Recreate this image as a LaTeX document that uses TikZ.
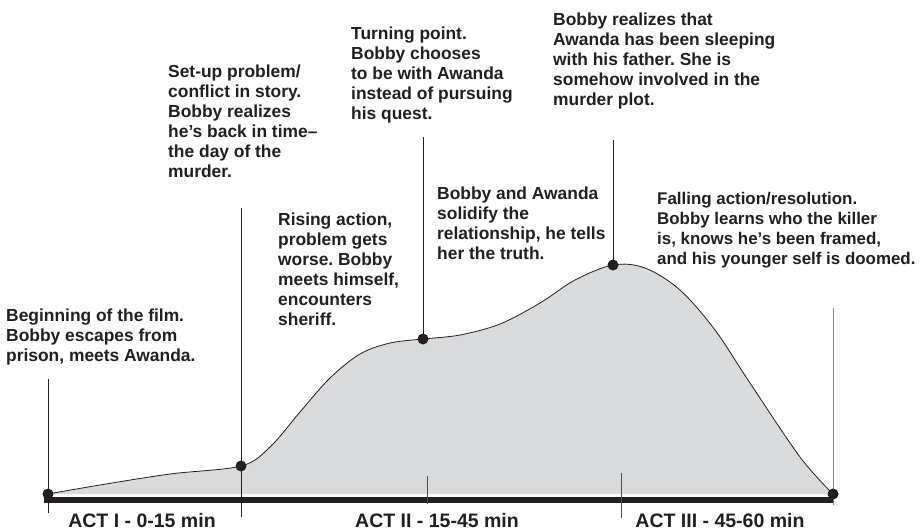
\documentclass[tikz,border=0pt]{standalone}
\usepackage{fontspec}
\setmainfont{Liberation Sans}
\definecolor{ink}{HTML}{231F20}
\definecolor{areafill}{HTML}{D9DADC}
\definecolor{endline}{HTML}{8A8A8A}
\begin{document}
\frenchspacing
\begin{tikzpicture}[x=1pt,y=-1pt,
  note/.style={anchor=north west, inner sep=0pt, align=left,
    font=\fontsize{17.4}{20}\selectfont\bfseries, text=ink},
  actlabel/.style={anchor=base, inner sep=0pt,
    font=\fontsize{19.5}{22}\selectfont\bfseries, text=ink},
  guide/.style={line width=0.9pt, draw=ink},
  tick/.style={line width=0.8pt, draw=ink!80},
  beat/.style={circle, fill=ink, inner sep=0pt, minimum size=11pt},
]
\useasboundingbox (0,0) rectangle (920,530);

% story arc
\def\arc{(48,494) (100,485) (170,474) (241,466) (270,447) (300,412)
  (330,378) (360,354) (390,343) (423,339) (460,335) (500,324) (540,303)
  (575,280) (613,265) (645,268) (680,290) (715,330) (748,380) (800,457)
  (833,494)}
\fill[areafill] plot[smooth, tension=0.55] coordinates {\arc} -- cycle;
\draw[ink, line width=0.8pt] plot[smooth, tension=0.55] coordinates {\arc};

% time axis
\coordinate (axL) at (44,500);
\coordinate (axR) at (833,500);
\draw[ink, line width=6pt] (axL) -- (axR);

% beat points and their guide tops
\coordinate (p0) at (48,494);   \coordinate (g0) at (48,379);   \coordinate (b0) at (48,513);
\coordinate (p1) at (241,466);  \coordinate (g1) at (241,208);  \coordinate (b1) at (241,517);
\coordinate (p2) at (423,339);  \coordinate (g2) at (423,137);
\coordinate (p3) at (613,265);  \coordinate (g3) at (613,140);
\coordinate (p4) at (833,494);  \coordinate (g4) at (833,308);  \coordinate (b4) at (833,505);

\draw[guide] (g0) -- (b0);
\draw[guide] (g1) -- (b1);
\draw[guide] (g2) -- (p2);
\draw[guide] (g3) -- (p3);
\draw[line width=0.9pt, endline] (g4) -- (b4);

% act dividers
\coordinate (t1a) at (427,476); \coordinate (t1b) at (427,504);
\coordinate (t2a) at (621,473); \coordinate (t2b) at (621,518);
\draw[tick] (t1a) -- (t1b);
\draw[tick] (t2a) -- (t2b);

\foreach \p in {p0,p1,p2,p3,p4} \node[beat] at (\p) {};

% annotations
\node[note] (n0) at (6,309) {Beginning of the film.\\Bobby escapes from\\prison, meets Awanda.};
\node[note] (n1) at (168,65) {Set-up problem/\\conflict in story.\\Bobby realizes\\he’s back in time–\\the day of the\\murder.};
\node[note] (n2) at (278,213) {Rising action,\\problem gets\\worse. Bobby\\meets himself,\\encounters\\sheriff.};
\node[note] (n3) at (351,27) {Turning point.\\Bobby chooses\\to be with Awanda\\instead of pursuing\\his quest.};
\node[note] (n4) at (437,187) {Bobby and Awanda\\solidify the\\relationship, he tells\\her the truth.};
\node[note] (n5) at (553,13) {Bobby realizes that\\Awanda has been sleeping\\with his father. She is\\somehow involved in the\\murder plot.};
\node[note, font=\fontsize{16.9}{20}\selectfont\bfseries] (n6) at (657,192) {Falling action/resolution.\\Bobby learns who the killer\\is, knows he’s been framed,\\and his younger self is doomed.};

% act labels
\node[actlabel] (a1) at (142,527) {ACT I - 0-15 min};
\node[actlabel] (a2) at (437,527) {ACT II - 15-45 min};
\node[actlabel] (a3) at (720,527) {ACT III - 45-60 min};
\end{tikzpicture}
\end{document}
